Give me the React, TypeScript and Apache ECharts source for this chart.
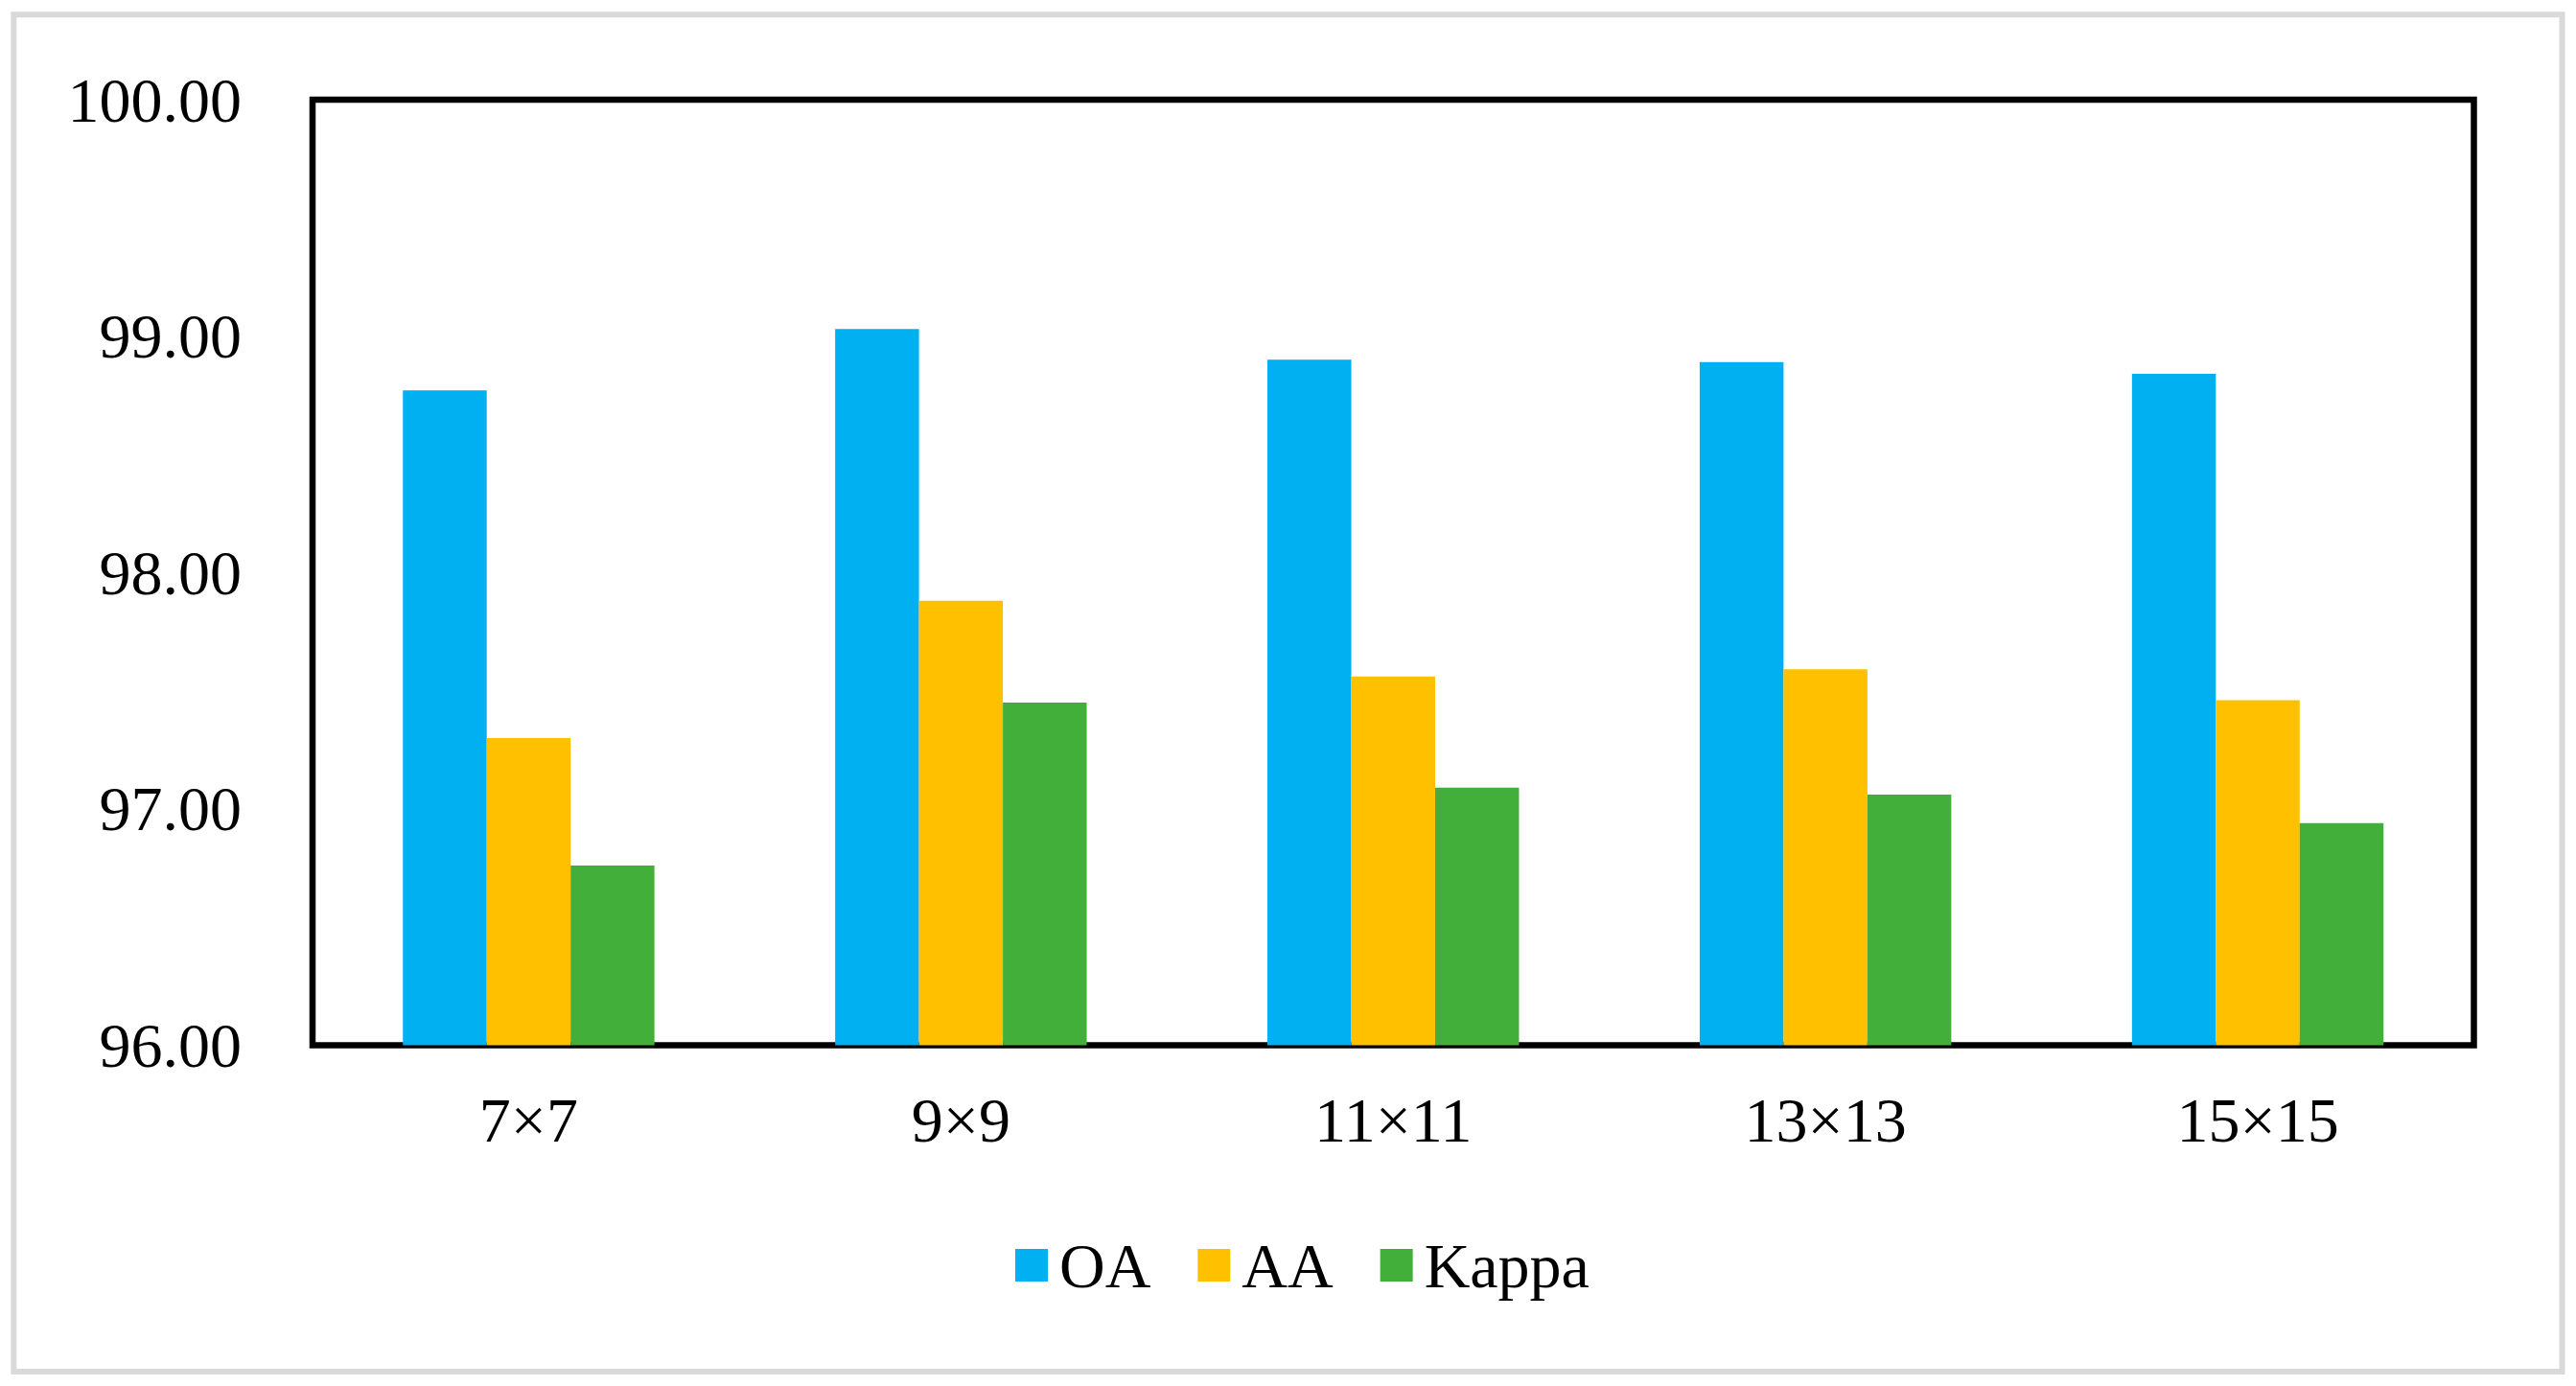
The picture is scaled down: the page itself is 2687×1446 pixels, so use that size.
import React, { useEffect, useRef } from "react";
import * as echarts from "echarts";

const categories = ["7×7", "9×9", "11×11", "13×13", "15×15"];
const seriesNames = ["OA", "AA", "Kappa"];
const oaValues = [98.77, 99.03, 98.9, 98.89, 98.84];
const aaValues = [97.3, 97.88, 97.56, 97.59, 97.46];
const kappaValues = [96.76, 97.45, 97.09, 97.06, 96.94];
const seriesColors = ["#00B0F0", "#FFC000", "#43AF3B"];
const yMin = 96;
const yMax = 100;
const yInterval = 1;

const FONT = '"Liberation Serif", "Times New Roman", serif';

export default function App() {
  const ref = useRef<HTMLDivElement>(null);
  useEffect(() => {
    if (!ref.current) return;
    const chart = echarts.init(ref.current, undefined, { renderer: "svg" });
    const values = [oaValues, aaValues, kappaValues];
    chart.setOption({
      animation: false,
      backgroundColor: "#ffffff",
      textStyle: { fontFamily: FONT },
      graphic: [
        {
          type: "rect",
          shape: { x: 14.3, y: 15.2, width: 2658.2, height: 1415.8 },
          style: { fill: "none", stroke: "#d9d9d9", lineWidth: 6 },
          silent: true,
          z: 0,
        },
      ],
      grid: {
        left: 326,
        top: 104,
        right: 2687 - 2580.5,
        bottom: 1446 - 1090.5,
        show: true,
        borderColor: "#000000",
        borderWidth: 6.5,
        backgroundColor: "transparent",
        containLabel: false,
      },
      legend: {
        data: seriesNames,
        left: 1054,
        top: 1282,
        orient: "horizontal",
        itemWidth: 34,
        itemHeight: 34,
        itemGap: 49,
        icon: "rect",
        textStyle: {
          fontFamily: FONT,
          fontSize: 66,
          color: "#000000",
          padding: [0, 0, 0, 7],
        },
      },
      xAxis: {
        type: "category",
        data: categories,
        axisLine: { show: false },
        axisTick: { show: false },
        axisLabel: {
          fontFamily: FONT,
          fontSize: 66,
          color: "#000000",
          margin: 45,
        },
        splitLine: { show: false },
      },
      yAxis: {
        type: "value",
        min: yMin,
        max: yMax,
        interval: yInterval,
        axisLine: { show: false },
        axisTick: { show: false },
        splitLine: { show: false },
        axisLabel: {
          fontFamily: FONT,
          fontSize: 66,
          color: "#000000",
          margin: 74,
          formatter: (v: number) => v.toFixed(2),
        },
      },
      series: seriesNames.map((name, i) => ({
        name,
        type: "bar",
        data: values[i],
        barGap: "0%",
        barCategoryGap: "41.8%",
        itemStyle: { color: seriesColors[i] },
      })),
    });
    return () => chart.dispose();
  }, []);
  return (
    <div
      ref={ref}
      style={{ position: "fixed", left: 0, top: 0, width: 2687, height: 1446 }}
    />
  );
}
